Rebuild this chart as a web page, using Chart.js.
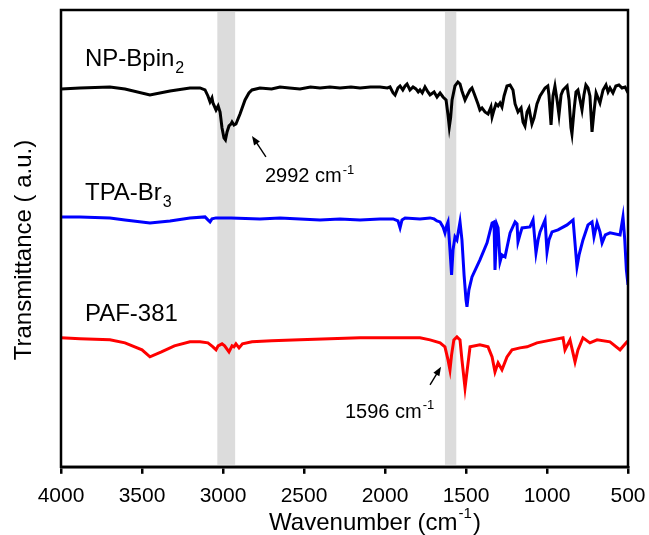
<!DOCTYPE html>
<html>
<head>
<meta charset="utf-8">
<script src="https://cdn.jsdelivr.net/npm/chart.js@4.4.1/dist/chart.umd.min.js"></script>
<style>
  html, body { margin: 0; padding: 0; background: #fff; }
  #wrap { width: 649px; height: 535px; }
</style>
</head>
<body>
<div id="wrap"><canvas id="irChart"></canvas></div>
<script>
// wavenumber (cm-1) and offset transmittance readings, per sample
const npWave = [4000, 3883, 3698, 3605, 3451, 3327, 3204, 3142, 3111, 3093, 3080, 3068, 3062, 3043, 3030, 3018, 3006, 2994, 2985, 2975, 2963, 2950, 2944, 2932, 2920, 2895, 2864, 2840, 2821, 2772, 2700, 2648, 2590, 2525, 2460, 2401, 2340, 2278, 2210, 2154, 2090, 2031, 1985, 1969, 1950, 1938, 1920, 1907, 1890, 1876, 1864, 1846, 1827, 1809, 1795, 1784, 1770, 1753, 1735, 1722, 1697, 1679, 1660, 1642, 1623, 1611, 1603, 1595, 1586, 1568, 1550, 1537, 1525, 1506, 1494, 1475, 1463, 1451, 1426, 1414, 1401, 1383, 1364, 1346, 1339, 1327, 1315, 1302, 1290, 1278, 1265, 1247, 1228, 1210, 1197, 1179, 1160, 1148, 1136, 1123, 1111, 1093, 1080, 1062, 1043, 1012, 995, 988, 975, 963, 951, 938, 926, 913, 901, 889, 876, 864, 852, 846, 833, 821, 809, 796, 784, 772, 760, 747, 735, 722, 710, 697, 685, 673, 654, 636, 623, 611, 593, 575, 556, 537, 518, 506, 500];
const npVals = [378, 379, 380, 378, 372, 376, 379, 379, 377, 371, 365, 369, 364, 357, 361, 355, 339, 329, 327, 335, 341, 343, 345, 342, 343, 353, 367, 374, 377, 379, 378, 380, 379, 378, 380, 379, 380, 379, 380, 379, 380, 380, 379, 380, 374, 372, 379, 381, 377, 381, 383, 377, 380, 378, 375, 377, 374, 380, 375, 372, 375, 370, 374, 370, 367, 352, 340, 349, 367, 381, 385, 383, 376, 367, 371, 377, 379, 374, 363, 357, 359, 355, 353, 360, 350, 357, 363, 361, 364, 360, 371, 381, 382, 377, 363, 355, 359, 345, 341, 355, 359, 343, 349, 363, 371, 379, 381, 372, 342, 371, 381, 367, 352, 372, 377, 379, 381, 367, 339, 333, 357, 375, 377, 367, 357, 372, 382, 379, 371, 335, 355, 374, 369, 364, 377, 382, 375, 379, 374, 381, 382, 379, 380, 376, 374];

const tpaWave = [4000, 3883, 3698, 3605, 3451, 3327, 3204, 3111, 3093, 3080, 3068, 3043, 2950, 2772, 2648, 2525, 2401, 2278, 2154, 2031, 1950, 1920, 1907, 1895, 1876, 1784, 1722, 1697, 1679, 1660, 1642, 1630, 1618, 1611, 1599, 1589, 1580, 1568, 1556, 1537, 1525, 1512, 1500, 1494, 1482, 1463, 1414, 1370, 1339, 1327, 1321, 1309, 1302, 1290, 1278, 1259, 1228, 1197, 1185, 1179, 1167, 1154, 1105, 1086, 1068, 1055, 1043, 1012, 1000, 988, 969, 932, 876, 839, 815, 802, 778, 747, 722, 710, 691, 673, 660, 640, 611, 549, 531, 520, 510, 500];
const tpaVals = [250, 250, 249, 247, 244, 246, 249, 250, 247, 245, 248, 249, 249, 248, 249, 248, 247, 248, 247, 248, 248, 246, 239, 247, 249, 248, 249, 248, 246, 245, 240, 234, 242, 245, 217, 192, 217, 230, 227, 245, 227, 192, 167, 160, 177, 190, 207, 224, 244, 245, 197, 242, 239, 205, 212, 210, 234, 245, 243, 225, 232, 239, 240, 247, 214, 227, 235, 247, 215, 227, 235, 237, 242, 247, 200, 212, 227, 242, 245, 230, 244, 235, 224, 232, 234, 232, 250, 227, 197, 182];

const pafWave = [4000, 3883, 3698, 3605, 3500, 3451, 3380, 3300, 3204, 3142, 3093, 3062, 3043, 3030, 3006, 2990, 2963, 2944, 2932, 2920, 2901, 2880, 2821, 2700, 2525, 2340, 2154, 2031, 1909, 1784, 1722, 1660, 1630, 1611, 1599, 1589, 1575, 1556, 1537, 1525, 1506, 1494, 1475, 1414, 1364, 1339, 1321, 1302, 1278, 1247, 1216, 1167, 1123, 1062, 1000, 901, 889, 858, 827, 809, 778, 735, 691, 611, 549, 506, 500];
const pafVals = [129, 128, 127, 124, 117, 110, 115, 121, 125, 125, 124, 120, 117, 121, 123, 121, 115, 121, 120, 123, 119, 123, 125, 126, 127, 128, 129, 129, 129, 129, 127, 124, 120, 107, 97, 112, 127, 130, 127, 107, 79, 95, 120, 122, 120, 110, 95, 104, 97, 110, 117, 119, 120, 124, 126, 129, 117, 127, 105, 117, 129, 124, 127, 125, 117, 125, 125];

const seriesNames = ['NP-Bpin', 'TPA-Br', 'PAF-381'];
const seriesSubs = ['2', '3', ''];
const seriesColors = ['#000000', '#0000ff', '#ff0000'];
const labelAt = [[3852, 401], [3852, 267], [3852, 146]];

const xTicks = [4000, 3500, 3000, 2500, 2000, 1500, 1000, 500];
const bands = [[3035, 2925], [1630, 1560]];

// peak notes: text, text pos, arrow tail, arrow head
const peakNotes = [
  { text: '2992 cm', sup: '-1', at: [2741, 285], from: [2735, 310], to: [2821, 331] },
  { text: '1596 cm', sup: '-1', at: [2247, 49], from: [1722, 82], to: [1654, 100] }
];

const FONT = '"Liberation Sans", Arial, sans-serif';

function toPoints(w, v) {
  return w.map((x, i) => ({ x: x, y: v[i] }));
}

function drawRich(ctx, x, y, main, small, up, size) {
  ctx.font = size + 'px ' + FONT;
  ctx.fillText(main, x, y);
  const w = ctx.measureText(main).width;
  if (small) {
    ctx.font = Math.round(size * 0.65) + 'px ' + FONT;
    ctx.fillText(small, x + w + 1, up ? y - size * 0.42 : y + size * 0.28);
  }
}

const bandPlugin = {
  id: 'bands',
  beforeDatasetsDraw(chart) {
    const { ctx, chartArea, scales } = chart;
    ctx.save();
    ctx.fillStyle = '#dcdcdc';
    for (const b of bands) {
      const x1 = scales.x.getPixelForValue(b[0]);
      const x2 = scales.x.getPixelForValue(b[1]);
      ctx.fillRect(x1, chartArea.top + 2, x2 - x1, chartArea.bottom - chartArea.top - 4);
    }
    ctx.restore();
  }
};

const notesPlugin = {
  id: 'notes',
  afterDraw(chart) {
    const { ctx, chartArea, scales } = chart;
    const px = v => scales.x.getPixelForValue(v);
    const py = v => scales.y.getPixelForValue(v);
    ctx.save();
    // frame
    ctx.strokeStyle = '#000';
    ctx.lineWidth = 2.5;
    ctx.strokeRect(chartArea.left, chartArea.top, chartArea.right - chartArea.left, chartArea.bottom - chartArea.top);

    ctx.fillStyle = '#000';
    ctx.textBaseline = 'alphabetic';
    ctx.textAlign = 'left';
    for (let i = 0; i < seriesNames.length; i++) {
      drawRich(ctx, px(labelAt[i][0]), py(labelAt[i][1]), seriesNames[i], seriesSubs[i], false, 24);
    }

    for (const n of peakNotes) {
      drawRich(ctx, px(n.at[0]), py(n.at[1]), n.text, n.sup, true, 20);
      const x1 = px(n.from[0]), y1 = py(n.from[1]);
      const x2 = px(n.to[0]), y2 = py(n.to[1]);
      const a = Math.atan2(y2 - y1, x2 - x1);
      ctx.lineWidth = 1.4;
      ctx.beginPath();
      ctx.moveTo(x1, y1);
      ctx.lineTo(x2 - 6 * Math.cos(a), y2 - 6 * Math.sin(a));
      ctx.stroke();
      ctx.beginPath();
      ctx.moveTo(x2, y2);
      ctx.lineTo(x2 - 9 * Math.cos(a) + 3.5 * Math.sin(a), y2 - 9 * Math.sin(a) - 3.5 * Math.cos(a));
      ctx.lineTo(x2 - 9 * Math.cos(a) - 3.5 * Math.sin(a), y2 - 9 * Math.sin(a) + 3.5 * Math.cos(a));
      ctx.closePath();
      ctx.fill();
    }

    // axis titles
    const t1 = 'Wavenumber (cm';
    ctx.font = '24px ' + FONT;
    const w1 = ctx.measureText(t1).width;
    const w3 = ctx.measureText(')').width;
    ctx.font = '15px ' + FONT;
    const w2 = ctx.measureText('-1').width;
    const sx = 375 - (w1 + w2 + w3 + 2) / 2;
    ctx.font = '24px ' + FONT;
    ctx.fillText(t1, sx, 530);
    ctx.fillText(')', sx + w1 + w2 + 2, 530);
    ctx.font = '15px ' + FONT;
    ctx.fillText('-1', sx + w1 + 1, 518);

    ctx.translate(31, 250);
    ctx.rotate(-Math.PI / 2);
    ctx.textAlign = 'center';
    ctx.font = '24px ' + FONT;
    ctx.fillText('Transmittance ( a.u.)', 0, 0);
    ctx.restore();
  }
};

new Chart(document.getElementById('irChart'), {
  type: 'line',
  data: {
    datasets: [
      { label: seriesNames[0], data: toPoints(npWave, npVals) },
      { label: seriesNames[1], data: toPoints(tpaWave, tpaVals) },
      { label: seriesNames[2], data: toPoints(pafWave, pafVals) }
    ].map((d, i) => Object.assign(d, {
      borderColor: seriesColors[i],
      borderWidth: 3,
      pointRadius: 0,
      fill: false,
      tension: 0
    }))
  },
  options: {
    responsive: true,
    maintainAspectRatio: false,
    animation: false,
    events: [],
    layout: { padding: { left: 61, right: 21, top: 10, bottom: 16 } },
    plugins: { legend: { display: false }, tooltip: { enabled: false } },
    scales: {
      x: {
        type: 'linear',
        reverse: true,
        min: 500,
        max: 4000,
        afterBuildTicks: axis => { axis.ticks = xTicks.map(v => ({ value: v })); },
        afterFit: axis => { axis.paddingLeft = 0; axis.paddingRight = 0; },
        ticks: {
          color: '#000',
          font: { size: 21, family: FONT },
          padding: 10,
          maxRotation: 0,
          callback: v => String(v)
        },
        grid: { drawOnChartArea: false, drawTicks: true, tickLength: 7, color: '#000', lineWidth: 2.5 },
        border: { display: true, color: '#000', width: 2.5 }
      },
      y: {
        display: false,
        min: 0,
        max: 457
      }
    }
  },
  plugins: [bandPlugin, notesPlugin]
});
</script>
</body>
</html>
